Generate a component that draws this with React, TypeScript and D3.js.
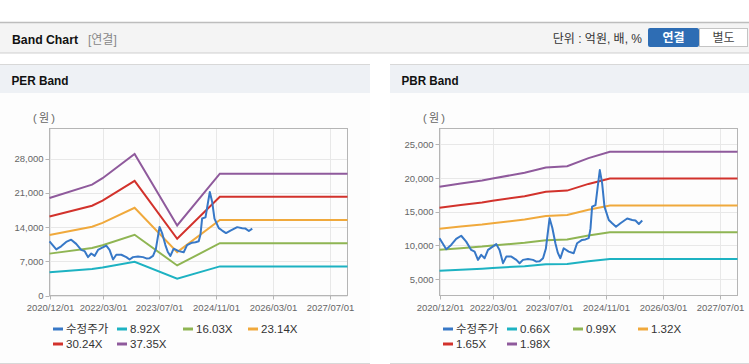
import React from "react";
import * as d3 from "d3";

// 수정주가 (adjusted price), shared by both panels
const priceDates = [
  "2020-12-01", "2021-01-28", "2021-03-11", "2021-04-23", "2021-06-05", "2021-07-18",
  "2021-08-30", "2021-09-28", "2021-10-27", "2021-11-24", "2021-12-23", "2022-01-21",
  "2022-02-18", "2022-04-02", "2022-04-30", "2022-05-30", "2022-06-27", "2022-08-09",
  "2022-09-21", "2022-10-19", "2022-11-17", "2022-12-30", "2023-02-11", "2023-03-12",
  "2023-04-09", "2023-05-08", "2023-06-01", "2023-07-03", "2023-07-27", "2023-08-22",
  "2023-09-12", "2023-10-04", "2023-11-01", "2023-12-14", "2024-01-26", "2024-02-24",
  "2024-04-07", "2024-05-06", "2024-06-03", "2024-06-18", "2024-07-02", "2024-07-31",
  "2024-08-19", "2024-09-06", "2024-09-26", "2024-10-16", "2024-11-22", "2024-12-21",
  "2025-01-23", "2025-03-02", "2025-04-29", "2025-06-11", "2025-07-09", "2025-08-07",
  "2025-09-05",
];
const priceValues = [
  11074, 9450, 10080, 10970, 11440, 10570,
  9340, 9090, 7860, 8600, 8110, 9340,
  9680, 10200, 9340, 7370, 8350, 8350,
  7860, 7370, 7860, 8000, 7860, 7600,
  7650, 8110, 9500, 14040, 12600, 10330,
  8900, 8110, 9590, 9090, 8850, 10330,
  10820, 10900, 11100, 12500, 15760, 16000,
  18720, 21190, 19220, 15760, 13790, 13300,
  12790, 13300, 14000, 13790, 13700, 13200,
  13700,
];

// PER band
const perDates = ["2020-12-01", "2021-12-01", "2022-03-01", "2022-12-01", "2023-12-01", "2024-12-01", "2027-12-01"];
const per892 = [4772, 5423, 5736, 6922, 3425, 5959, 5959];
const per1603 = [8576, 9746, 10307, 12439, 6156, 10708, 10708];
const per2314 = [12380, 14069, 14879, 17957, 8886, 15458, 15458];
const per3024 = [16178, 18386, 19444, 23466, 11612, 20200, 20200];
const per3735 = [19982, 22709, 24016, 28984, 14342, 24950, 24950];
const perLabels = ["8.92X", "16.03X", "23.14X", "30.24X", "37.35X"];
const perTicks = [0, 7000, 14000, 21000, 28000];

// PBR band
const pbrDates = ["2020-12-01", "2021-06-01", "2021-12-01", "2022-03-01", "2022-12-01", "2023-06-01", "2023-12-01", "2024-06-01", "2024-12-01", "2027-12-01"];
const pbr066 = [6244, 6402, 6554, 6653, 6930, 7194, 7260, 7656, 7973, 7973];
const pbr099 = [9365, 9603, 9831, 9979, 10395, 10791, 10890, 11484, 11959, 11959];
const pbr132 = [12487, 12804, 13108, 13306, 13860, 14388, 14520, 15312, 15946, 15946];
const pbr165 = [15609, 16005, 16385, 16632, 17325, 17985, 18150, 19140, 19932, 19932];
const pbr198 = [18731, 19206, 19661, 19958, 20790, 21582, 21780, 22968, 23918, 23918];
const pbrLabels = ["0.66X", "0.99X", "1.32X", "1.65X", "1.98X"];
const pbrTicks = [5000, 10000, 15000, 20000, 25000];

const xTickLabels = ["2020/12/01", "2022/03/01", "2023/07/01", "2024/11/01", "2026/03/01", "2027/07/01"];
const xDomain = ["2020-12-01", "2027-12-01"];

const priceColor = "#3778c7";
const bandColors = ["#1db2c2", "#8fb553", "#f0a93c", "#d2322c", "#8f5a9c"];

const FONT = "'Liberation Sans', Arial, 'Noto Sans CJK KR', sans-serif";
const parse = d3.utcParse("%Y-%m-%d");
const parseTick = d3.utcParse("%Y/%m/%d");

interface PanelProps {
  x0: number;
  title: string;
  bandDates: string[];
  bands: number[][];
  labels: string[];
  yDomain: [number, number];
  yTicks: number[];
}

const Panel: React.FC<PanelProps> = ({ x0, title, bandDates, bands, labels, yDomain, yTicks }) => {
  const left = x0 + 49.5;
  const right = x0 + 347.5;
  const top = 128.5;
  const bottom = 295.5;
  const panelW = x0 === 0 ? 370 : 359;

  const x = d3.scaleUtc().domain(xDomain.map(d => parse(d) as Date)).range([left, right]);
  const y = d3.scaleLinear().domain(yDomain).range([bottom, top]);

  const line = d3.line<[Date, number]>()
    .x(d => x(d[0]))
    .y(d => y(d[1]));

  const bandPts = bands.map(vals => vals.map((v, i) => [parse(bandDates[i]) as Date, v] as [Date, number]));
  const pricePts = priceValues.map((v, i) => [parse(priceDates[i]) as Date, v] as [Date, number]);
  const fmt = d3.format(",");

  const legendItems = [{ label: "수정주가", color: priceColor }, ...labels.map((l, i) => ({ label: l, color: bandColors[i] }))];
  const legendCols = [53, 117, 183, 248];

  return (
    <g>
      {/* title bar */}
      <rect x={x0} y={93} width={panelW} height={270} fill="#fdfdfd" />
      <rect x={x0} y={64.5} width={panelW} height={28.5} fill="#eef1f5" />
      <line x1={x0} x2={x0 + panelW} y1={64.5} y2={64.5} stroke="#d8d8d8" />
      <text x={x0 + 11.5} y={84.5} fontFamily={FONT} fontSize={13} fontWeight="bold" fill="#111" textLength={57} lengthAdjust="spacingAndGlyphs">{title}</text>
      <line x1={x0} x2={x0 + panelW} y1={363.5} y2={363.5} stroke="#d8d8d8" />

      <text x={x0 + 33} y={122} fontFamily={FONT} fontSize={11} fill="#666" textLength={22} lengthAdjust="spacing">(원)</text>

      {/* grid */}
      {yTicks.map(t => (
        <line key={"gy" + t} x1={left} x2={right} y1={Math.round(y(t)) + 0.5} y2={Math.round(y(t)) + 0.5} stroke="#e8e8e8" />
      ))}
      {xTickLabels.map(t => {
        const px = Math.round(x(parseTick(t) as Date)) + 0.5;
        return <line key={"gx" + t} x1={px} x2={px} y1={top} y2={bottom} stroke="#e8e8e8" />;
      })}
      <rect x={left} y={top} width={right - left} height={bottom - top} fill="none" stroke="#b5b5b5" />

      {/* ticks */}
      {yTicks.map(t => (
        <g key={"ty" + t}>
          <line x1={left - 4} x2={left} y1={Math.round(y(t)) + 0.5} y2={Math.round(y(t)) + 0.5} stroke="#b5b5b5" />
          <text x={left - 6} y={y(t) + 3.5} textAnchor="end" fontFamily={FONT} fontSize={9.5} fill="#666">{fmt(t)}</text>
        </g>
      ))}
      {xTickLabels.map(t => {
        const px = Math.round(x(parseTick(t) as Date)) + 0.5;
        return (
          <g key={"tx" + t}>
            <line x1={px} x2={px} y1={bottom} y2={bottom + 4} stroke="#b5b5b5" />
            <text x={px} y={310.5} textAnchor="middle" fontFamily={FONT} fontSize={9.5} fill="#666">{t}</text>
          </g>
        );
      })}

      {/* bands */}
      {bandPts.map((pts, i) => (
        <path key={"b" + i} d={line(pts) || ""} fill="none" stroke={bandColors[i]} strokeWidth={2} />
      ))}
      <path d={line(pricePts) || ""} fill="none" stroke={priceColor} strokeWidth={2} strokeLinejoin="round" />

      {/* legend */}
      {legendItems.map((it, i) => {
        const col = i % 4;
        const row = Math.floor(i / 4);
        const lx = x0 + legendCols[col];
        const ly = 329 + row * 15;
        return (
          <g key={"lg" + i}>
            <line x1={lx} x2={lx + 10} y1={ly} y2={ly} stroke={it.color} strokeWidth={3} />
            <text x={lx + 13} y={ly + 4} fontFamily={FONT} fontSize={11.5} fill="#333">{it.label}</text>
          </g>
        );
      })}
    </g>
  );
};

const App: React.FC = () => {
  return (
    <svg width={749} height={364} style={{ position: "absolute", left: 0, top: 0, background: "#fff" }}>
      {/* header */}
      <rect x={0} y={22} width={749} height={31} fill="#f4f4f4" />
      <line x1={0} x2={749} y1={22.5} y2={22.5} stroke="#bdbdbd" strokeWidth={1.5} />
      <line x1={0} x2={749} y1={53} y2={53} stroke="#cfcfcf" />
      <text x={12} y={44} fontFamily={FONT} fontSize={13} fontWeight="bold" fill="#111" textLength={66} lengthAdjust="spacingAndGlyphs">Band Chart</text>
      <text x={88} y={44} fontFamily={FONT} fontSize={12} fill="#888">[연결]</text>
      <text x={642} y={43} textAnchor="end" fontFamily={FONT} fontSize={12} fill="#333">단위 : 억원, 배, %</text>
      <rect x={648} y={28} width={51} height={19} rx={2} fill="#2e6db4" />
      <text x={673.5} y={42} textAnchor="middle" fontFamily={FONT} fontSize={12} fontWeight="bold" fill="#fff">연결</text>
      <rect x={699.5} y={28.5} width={48} height={18} fill="#fff" stroke="#c4c4c4" />
      <text x={723.5} y={42} textAnchor="middle" fontFamily={FONT} fontSize={12} fill="#444">별도</text>

      <Panel
        x0={0}
        title="PER Band"
        bandDates={perDates}
        bands={[per892, per1603, per2314, per3024, per3735]}
        labels={perLabels}
        yDomain={[0, 34200]}
        yTicks={perTicks}
      />
      <Panel
        x0={390}
        title="PBR Band"
        bandDates={pbrDates}
        bands={[pbr066, pbr099, pbr132, pbr165, pbr198]}
        labels={pbrLabels}
        yDomain={[2570, 27370]}
        yTicks={pbrTicks}
      />
    </svg>
  );
};

export default App;
